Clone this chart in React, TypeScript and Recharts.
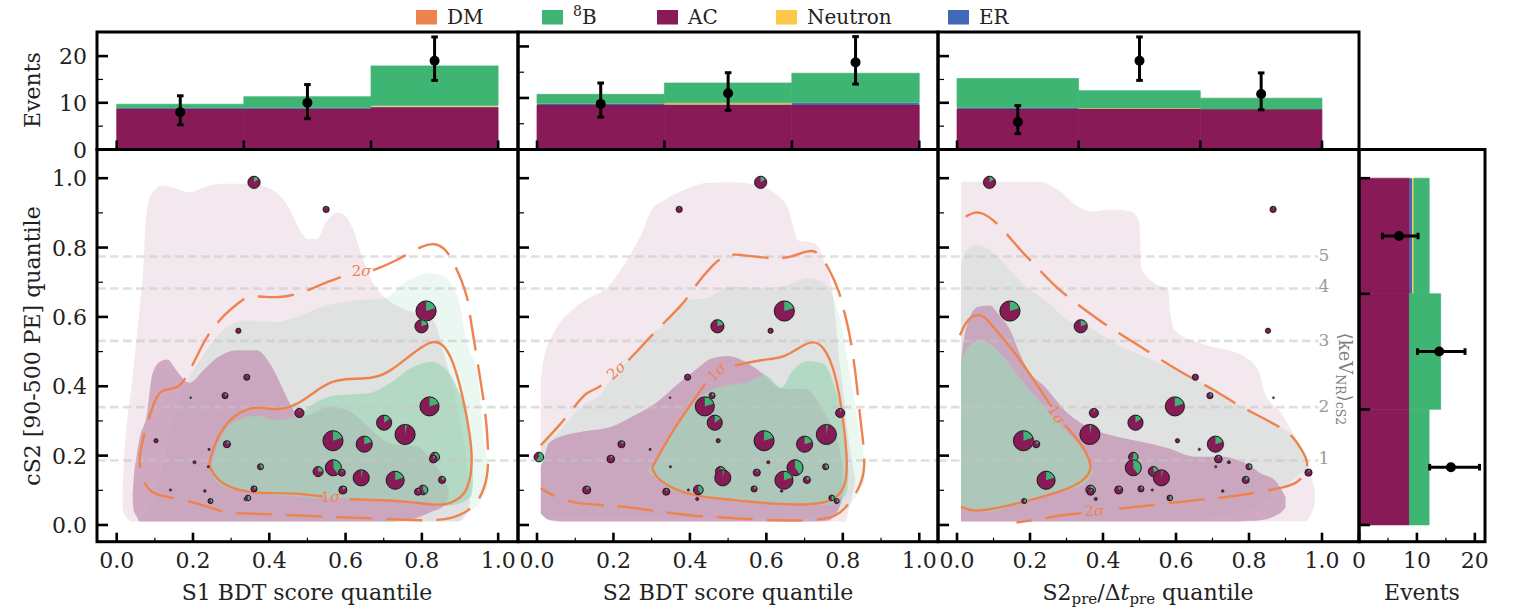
import React from "react";
import { ComposedChart, XAxis, YAxis, Area, Line, Bar, Scatter, ErrorBar, ReferenceLine, ReferenceDot } from "recharts";

const FONT = '"DejaVu Serif", serif';
const INK = "#222";
const C_DM = "#ee8350";
const C_B8 = "#3fb573";
const C_AC = "#881a58";
const C_N = "#ffc84a";
const C_ER = "#4269b8";
const C_AC_CORE = "#c698b7";
const C_B8_CORE = "#a0d5b8";

// ---- histogram values: AC, ER, Neutron, 8B per bin
const binCentres = [1 / 6, 0.5, 5 / 6];
const s1Ac = [8.7, 8.7, 9.0];
const s1Er = [0.2, 0.2, 0.15];
const s1Neutron = [0.05, 0.05, 0.3];
const s1B8 = [0.75, 2.35, 8.45];
const s2Ac = [8.65, 8.65, 8.65];
const s2Er = [0.2, 0.1, 0.35];
const s2Neutron = [0.1, 0.3, 0.05];
const s2B8 = [1.75, 3.85, 5.75];
const preAc = [8.65, 8.65, 8.65];
const preEr = [0.25, 0.1, 0.0];
const preNeutron = [0.05, 0.15, 0.0];
const preB8 = [6.25, 3.7, 2.35];
const cs2Centres = [1 / 6, 0.5, 5 / 6];
const cs2Ac = [8.7, 8.7, 8.72];
const cs2Er = [0, 0, 0.45];
const cs2Neutron = [0, 0, 0.3];
const cs2B8 = [3.4, 5.4, 2.65];

// ---- observed counts: value, lower, upper
const s1Obs = [[8, 5.3, 11.5], [10, 6.6, 13.9], [19, 14.8, 24.1]];
const s2Obs = [[8.85, 6.3, 12.9], [10.9, 7.6, 14.9], [16.9, 12.7, 21.9]];
const preObs = [[5.9, 3.4, 9.4], [19, 14.8, 24.1], [11.9, 8.5, 16.4]];
const cs2Obs = [[15.87, 12.2, 20.8], [13.85, 10.1, 18.3], [6.9, 4.05, 10.2]];

// ---- observed events
const eventS1 = [.36, .549, .811, .799, .319, .341, .284, .194, .479, .82, .701, .756, .567, .649, .289, .103, .242, .834, .83, .204, .24, .377, .568, .528, .59, .641, .73, .853, .36, .593, .803, .79, .141, .231, .344, .338, .246];
const eventS2 = [.585, .372, .647, .472, .611, .394, .458, .348, .793, .439, .465, .757, .594, .70, .221, .474, .296, .005, .193, .605, .349, .755, .675, .48, .575, .486, .646, .706, .568, .13, .422, .338, .396, .64, .771, .419, .784];
const eventPre = [.089, .866, .145, .339, .852, .653, .693, .867, .375, .597, .489, .364, .182, .708, .217, .604, .664, .483, .716, .745, .709, .80, .483, .538, .963, .56, .244, .791, .504, .443, .366, .366, .535, .728, .583, .38, .184];
const eventCs2 = [.988, .91, .617, .573, .56, .426, .373, .367, .323, .342, .295, .261, .243, .233, .233, .243, .218, .196, .19, .181, .168, .168, .165, .154, .151, .136, .129, .13, .104, .101, .101, .096, .101, .098, .078, .075, .069];
const eventWeight = [6, 3, 10, 6.5, 2.5, 3, 3, .8, 4.5, 9.5, 7.5, 10, 10, 8, 3.5, 2, 1, 4.7, 3.8, 1.5, 1, 3, 8, 5, 3.5, 8, 9, 3.5, 3, 4, 4.8, 3.5, 1, 1.2, 2.8, 1.5, 2.5];
const eventB8Share = [.15, .05, .2, .2, 0, .05, .2, 0, .05, .2, .15, .03, .2, .2, .15, 0, 0, .6, .1, 0, 0, .4, .4, .25, .1, .03, .2, .2, .2, .15, .4, .1, 0, 0, .5, 0, .4];

// ---- reference cS2 quantile levels
const energyLevels = [0.186, 0.34, 0.531, 0.682, 0.774];
const energyLabels = ["1", "2", "3", "4", "5"];

// ---- density bands: x, lower, upper
const s1Ac2 = [[.015, .05, .10], [.02, .03, .2], [.04, .01, .41], [.06, .01, .62], [.07, .01, .745], [.077, .01, .889], [.09, .01, .952], [.12, .01, .979], [.16, .01, .969], [.19, .01, .959], [.23, .01, .974], [.27, .01, .984], [.35, .01, .984], [.40, .01, .971], [.45, .01, .918], [.48, .01, .851], [.50, .01, .825], [.525, .01, .825], [.55, .01, .875], [.58, .01, .901], [.60, .01, .891], [.62, .01, .851], [.64, .01, .784], [.67, .01, .702], [.70, .01, .659], [.74, .01, .629], [.83, .01, .59], [.86, .01, .485], [.895, .01, .33], [.92, .035, .149], [.925, .06, .08]];
const s1Ac1 = [[.042, .07, .09], [.045, .04, .14], [.052, .025, .197], [.06, .01, .25], [.078, .01, .312], [.094, .01, .437], [.113, .01, .47], [.133, .01, .477], [.153, .01, .451], [.183, .01, .413], [.192, .01, .41], [.227, .01, .446], [.267, .01, .485], [.315, .01, .504], [.367, .01, .504], [.402, .01, .465], [.433, .01, .398], [.454, .01, .35], [.48, .01, .312], [.50, .01, .317], [.56, .01, .341], [.62, .01, .322], [.655, .01, .288], [.716, .01, .235], [.75, .014, .23], [.786, .02, .226], [.83, .04, .178], [.856, .053, .139], [.87, .08, .10]];
const s1B82 = [[.07, .01, .02], [.105, .01, .1], [.14, .01, .27], [.166, .01, .37], [.19, .01, .425], [.227, .01, .489], [.27, .01, .552], [.34, .01, .59], [.42, .01, .585], [.47, .01, .60], [.54, .01, .629], [.63, .01, .648], [.70, .01, .654], [.76, .01, .702], [.82, .01, .726], [.86, .01, .716], [.885, .01, .678], [.895, .01, .655], [.917, .034, .53], [.948, .06, .42], [.96, .08, .264], [.972, .11, .19]];
const s1B81 = [[.245, .155, .16], [.262, .125, .225], [.297, .106, .288], [.349, .099, .312], [.367, .093, .315], [.419, .086, .302], [.472, .082, .312], [.524, .077, .355], [.576, .077, .374], [.655, .074, .379], [.716, .072, .408], [.769, .069, .451], [.825, .06, .47], [.856, .055, .456], [.891, .06, .398], [.917, .072, .312], [.93, .086, .197], [.934, .12, .14]];
const s2Ac2 = [[.01, .034, .422], [.017, .025, .475], [.043, .01, .552], [.091, .01, .619], [.126, .01, .648], [.186, .01, .688], [.23, .01, .755], [.274, .01, .841], [.30, .01, .909], [.335, .01, .9375], [.396, .01, .971], [.44, .01, .986], [.509, .01, .988], [.588, .01, .976], [.632, .01, .947], [.658, .01, .909], [.67, .01, .861], [.684, .01, .82], [.727, .01, .8125], [.753, .01, .755], [.771, .01, .6875], [.793, .01, .456], [.806, .01, .336], [.819, .06, .216], [.832, .12, .14]];
const s2Ac1 = [[.01, .034, .17], [.017, .025, .187], [.03, .015, .235], [.073, .01, .259], [.117, .01, .269], [.195, .01, .283], [.248, .01, .312], [.309, .01, .35], [.37, .01, .408], [.413, .01, .446], [.457, .01, .48], [.50, .01, .487], [.553, .01, .465], [.596, .01, .432], [.64, .01, .393], [.70, .01, .393], [.727, .01, .369], [.758, .012, .312], [.784, .034, .254], [.80, .08, .168]];
const s2B82 = [[.01, .03, .235], [.03, .02, .245], [.134, .02, .355], [.16, .02, .369], [.204, .02, .437], [.239, .02, .475], [.282, .02, .533], [.335, .02, .58], [.387, .02, .649], [.446, .02, .654], [.50, .02, .6875], [.588, .02, .683], [.64, .02, .6875], [.71, .02, .7115], [.745, .02, .702], [.771, .034, .668], [.801, .045, .552], [.814, .053, .46], [.83, .075, .36], [.845, .10, .25], [.853, .12, .216], [.858, .13, .17]];
const s2B81 = [[.291, .155, .16], [.317, .13, .197], [.352, .10, .264], [.387, .091, .321], [.422, .082, .365], [.457, .077, .389], [.50, .072, .403], [.553, .065, .413], [.596, .062, .432], [.64, .06, .396], [.666, .059, .441], [.71, .058, .473], [.749, .058, .465], [.77, .058, .427], [.792, .075, .341], [.81, .091, .216], [.814, .12, .158]];
const preAc2 = [[.011, .01, .99], [.222, .01, .99], [.277, .01, .966], [.332, .01, .918], [.368, .01, .904], [.423, .01, .91], [.478, .01, .904], [.50, .01, .87], [.505, .01, .74], [.542, .01, .697], [.579, .01, .678], [.583, .01, .62], [.597, .01, .561], [.67, .01, .523], [.788, .01, .485], [.83, .01, .437], [.84, .01, .389], [.889, .01, .321], [.921, .01, .264], [.953, .01, .197], [.97, .03, .14], [.98, .06, .10]];
const preAc1 = [[.011, .01, .47], [.017, .01, .523], [.036, .01, .60], [.058, .01, .629], [.09, .01, .633], [.113, .01, .609], [.15, .01, .552], [.168, .01, .504], [.195, .01, .446], [.241, .01, .398], [.305, .01, .321], [.378, .01, .274], [.442, .01, .254], [.506, .01, .24], [.579, .01, .221], [.651, .01, .197], [.733, .01, .197], [.76, .01, .19], [.807, .012, .168], [.83, .014, .15], [.87, .025, .13], [.89, .038, .10], [.90, .05, .08]];
const preB82 = [[.011, .01, .75], [.027, .01, .793], [.054, .01, .808], [.09, .01, .793], [.14, .01, .74], [.195, .01, .683], [.241, .01, .649], [.305, .01, .59], [.369, .01, .566], [.442, .01, .518], [.515, .01, .485], [.579, .01, .456], [.651, .01, .422], [.67, .015, .41], [.733, .03, .369], [.80, .043, .33], [.88, .10, .288], [.89, .106, .28], [.925, .135, .254], [.945, .154, .22], [.96, .16, .19]];
const preB81 = [[.011, .053, .475], [.031, .043, .513], [.063, .038, .533], [.095, .038, .518], [.131, .048, .48], [.177, .062, .417], [.232, .082, .35], [.287, .096, .283], [.332, .11, .235], [.36, .13, .192], [.373, .15, .16]];

// ---- signal contours (null = gap for the label)
const s1Sigma2 = [[.105, .369], [.118, .389], [.140, .392], [.166, .398], [.188, .437], [.218, .504], [.240, .552], [.288, .614], [.323, .643], [.341, .659], [.384, .659], [.437, .654], [.507, .678], [.541, .697], [.611, .724], [.64, null], [.672, .734], [.738, .764], [.803, .808], [.838, .813], [.865, .793], [.886, .75], [.904, .707], [.921, .649], [.921, .638], [.948, .456], [.969, .312], [.974, .216], [.974, .139], [.952, .072], [.917, .034], [.856, .012], [.786, .014], [.672, .019], [.541, .024], [.454, .029], [.314, .034], [.279, .036], [.227, .058], [.157, .077], [.096, .086], [.07, .12], [.059, .178], [.061, .206], [.07, .254], [.087, .321], [.105, .369]];
const s1Sigma1 = [[.243, .178], [.253, .226], [.279, .283], [.314, .321], [.358, .341], [.393, .336], [.428, .331], [.48, .35], [.524, .389], [.568, .417], [.611, .422], [.672, .422], [.716, .441], [.769, .489], [.825, .535], [.856, .523], [.882, .475], [.908, .369], [.926, .264], [.934, .178], [.921, .101], [.895, .072], [.856, .055], [.803, .062], [.716, .072], [.611, .074], [.56, null], [.541, .082], [.454, .093], [.367, .091], [.306, .103], [.262, .13], [.243, .168], [.243, .178]];
const s2Sigma2 = [[.01, .23], [.06, .288], [.104, .35], [.13, .384], [.16, .393], [.195, .427], [.21, null], [.239, .475], [.269, .509], [.30, .547], [.352, .605], [.387, .643], [.422, .702], [.452, .74], [.483, .774], [.514, .782], [.553, .776], [.631, .766], [.666, .774], [.71, .791], [.727, .791], [.74, .776], [.762, .745], [.793, .668], [.801, .624], [.819, .552], [.836, .417], [.845, .312], [.854, .235], [.858, .168], [.849, .115], [.806, .043], [.771, .019], [.71, .012], [.579, .014], [.466, .024], [.422, .024], [.291, .043], [.23, .053], [.195, .055], [.117, .062], [.082, .067], [.03, .091], [.01, .106]];
const s2Sigma1 = [[.302, .168], [.317, .197], [.361, .283], [.404, .35], [.44, .408], [.47, null], [.518, .46], [.588, .477], [.649, .482], [.693, .518], [.723, .531], [.749, .518], [.78, .446], [.801, .312], [.814, .168], [.805, .101], [.771, .067], [.71, .058], [.64, .06], [.553, .067], [.50, .074], [.422, .082], [.361, .101], [.317, .13], [.302, .158], [.302, .168]];
const preSigma2 = [[.024, .889], [.049, .904], [.072, .899], [.099, .88], [.127, .851], [.177, .788], [.209, .755], [.264, .692], [.314, .649], [.359, .614], [.396, .585], [.46, .542], [.533, .494], [.597, .451], [.661, .413], [.706, .389], [.77, .345], [.807, .326], [.88, .285], [.912, .264], [.934, .235], [.953, .202], [.96, .182], [.96, .158], [.948, .139], [.93, .12], [.889, .106], [.852, .101], [.761, .082], [.651, .072], [.524, .055], [.41, .044], [.38, null], [.341, .034], [.286, .029], [.214, .014], [.163, .007]];
const preSigma1 = [[.008, .547], [.022, .581], [.04, .603], [.058, .607], [.077, .60], [.099, .571], [.131, .533], [.163, .489], [.186, .456], [.223, .398], [.259, .341], [.28, null], [.296, .288], [.341, .235], [.364, .187], [.369, .158], [.346, .125], [.286, .096], [.186, .067], [.077, .041], [.04, .041], [.011, .053]];

// ---- legend
const legendNames = ["DM", "B", "AC", "Neutron", "ER"];
const legendColors = [C_DM, C_B8, C_AC, C_N, C_ER];
const legendSwatchX = [416, 542, 657, 776, 948];

const mainTicks = [0, .1, .2, .3, .4, .5, .6, .7, .8, .9, 1];
const countTicks = [0, 5, 10, 15, 20];
const edgeTicks = [0, 1 / 3, 2 / 3, 1];
const MAIN_Y: [number, number] = [-0.0482, 1.0813];

const band = (rows: any[]) => rows.map(([x, lo, hi]) => ({ x, band: [lo, hi] }));
const curve = (rows: any[]) => rows.map(([x, y]) => ({ x, y }));
const histo = (ac: number[], er: number[], n: number[], b: number[]) =>
  binCentres.map((x, i) => ({ x, ac: ac[i], er: er[i], neutron: n[i], b8: b[i] }));
const obsX = (rows: number[][]) => rows.map((r, i) => ({ x: binCentres[i], y: r[0], err: [r[0] - r[1], r[2] - r[0]] }));
const obsY = (rows: number[][]) => rows.map((r, i) => ({ y: cs2Centres[i], x: r[0], err: [r[0] - r[1], r[2] - r[0]] }));

const Tx = ({ children, ...p }: any) => (
  <text fontFamily={FONT} fill={INK} {...p}>{children}</text>
);

const bottomTick = (isMajor: (v: number) => boolean, fmt: ((v: number) => string) | null, majorLen = 9, minorLen = 4) => (p: any) => {
  const v = p.payload.value;
  const major = isMajor(v);
  return (
    <g>
      <line x1={p.x} x2={p.x} y1={p.y} y2={p.y - (major ? majorLen : minorLen)} stroke="#000" strokeWidth={major ? 2.6 : 1.2} />
      {fmt && major ? <Tx x={p.x} y={p.y + 26} fontSize={22} textAnchor="middle">{fmt(v)}</Tx> : null}
    </g>
  );
};
const leftTick = (isMajor: (v: number) => boolean, fmt: ((v: number) => string) | null, majorLen = 11, minorLen = 6) => (p: any) => {
  const v = p.payload.value;
  const major = isMajor(v);
  return (
    <g>
      <line x1={p.x} x2={p.x + (major ? majorLen : minorLen)} y1={p.y} y2={p.y} stroke="#000" strokeWidth={major ? 2.6 : 1.2} />
      {fmt && major ? <Tx x={p.x - 10} y={p.y + 8} fontSize={22} textAnchor="end">{fmt(v)}</Tx> : null}
    </g>
  );
};
const evenTenth = (v: number) => Math.round(v * 10) % 2 === 0;
const evenTen = (v: number) => v % 10 === 0;

const PieMark = (p: any) => {
  const { cx, cy, payload } = p;
  const r = payload.size;
  const f = payload.share;
  let wedge = null;
  if (f > 0) {
    const a = f * 2 * Math.PI;
    const ex = cx + r * Math.sin(a);
    const ey = cy - r * Math.cos(a);
    wedge = <path d={`M${cx},${cy} L${cx},${cy - r} A${r},${r} 0 ${f > 0.5 ? 1 : 0} 1 ${ex},${ey} Z`} fill={C_B8} />;
  }
  return (
    <g>
      <circle cx={cx} cy={cy} r={r + 0.6} fill="none" stroke="#9a9a9a" strokeOpacity={0.5} strokeWidth={0.8} />
      <circle cx={cx} cy={cy} r={r} fill={C_AC} stroke="none" />
      {wedge}
      <circle cx={cx} cy={cy} r={r} fill="none" stroke="#1a1a1a" strokeWidth={r < 2 ? 0.8 : 1} />
    </g>
  );
};
const Obs = (p: any) => <circle cx={p.cx} cy={p.cy} r={5} fill="#000" />;

const SigmaText = ({ x, y, n, angle = 0 }: any) => (
  <ReferenceDot
    x={x}
    y={y}
    r={0}
    ifOverflow="visible"
    shape={(p: any) => (
      <text x={p.cx} y={p.cy + 5} transform={`rotate(${angle} ${p.cx} ${p.cy})`} fontFamily={FONT} fontSize={15} fill={C_DM} textAnchor="middle">
        {n}<tspan fontStyle="italic">σ</tspan>
      </text>
    )}
  />
);

const Stage = ({ children }: any) => <div style={{ position: "absolute", left: 0, top: 0, width: 1514, height: 609 }}>{children}</div>;

const TopPanel = ({ left, right, xDomain, yMax, rows, obs, barW, labels }: any) => (
  <Stage>
    <ComposedChart width={1514} height={609} data={rows} margin={{ left: left - 1, right: 1514 - right, top: 32, bottom: 458.5 }}>
      <XAxis xAxisId={0} dataKey="x" type="number" domain={xDomain} allowDataOverflow ticks={edgeTicks} interval={0} height={1} tickSize={0} tickMargin={0} tickLine={false} axisLine={false} tick={bottomTick(() => true, null)} />
      <YAxis yAxisId={0} type="number" domain={[0, yMax]} allowDataOverflow ticks={countTicks} interval={0} width={1} tickSize={0} tickMargin={0} tickLine={false} axisLine={false} tick={leftTick(evenTen, labels ? (v) => String(v) : null)} />
      <Bar dataKey="ac" stackId="h" fill={C_AC} stroke={C_AC} strokeWidth={0.7} barSize={barW} isAnimationActive={false} />
      <Bar dataKey="er" stackId="h" fill={C_ER} barSize={barW} isAnimationActive={false} />
      <Bar dataKey="neutron" stackId="h" fill={C_N} barSize={barW} isAnimationActive={false} />
      <Bar dataKey="b8" stackId="h" fill={C_B8} stroke={C_B8} strokeWidth={0.7} barSize={barW} isAnimationActive={false} />
      <Scatter data={obs} dataKey="y" shape={Obs} isAnimationActive={false}>
        <ErrorBar dataKey="err" direction="y" width={3.3} strokeWidth={3} stroke="#000" isAnimationActive={false} />
      </Scatter>
    </ComposedChart>
  </Stage>
);

const MainPanel = ({ left, right, xDomain, ac2, ac1, b2, b1, s2, s1, events, yLabels, levelEnd, children }: any) => (
  <Stage>
    <ComposedChart width={1514} height={609} margin={{ left: left - 1, right: 1514 - right, top: 150, bottom: 66.3 }}>
      <XAxis xAxisId={0} dataKey="x" type="number" domain={xDomain} allowDataOverflow ticks={mainTicks} interval={0} height={1} tickSize={0} tickMargin={0} tickLine={false} axisLine={false} tick={bottomTick(evenTenth, (v) => v.toFixed(1))} />
      <YAxis yAxisId={0} type="number" domain={MAIN_Y} allowDataOverflow ticks={mainTicks} interval={0} width={1} tickSize={0} tickMargin={0} tickLine={false} axisLine={false} tick={leftTick(evenTenth, yLabels ? (v) => v.toFixed(1) : null)} />
      <Area data={band(ac2)} dataKey="band" type="monotoneX" stroke="none" fill={C_AC} fillOpacity={0.1} dot={false} activeDot={false} isAnimationActive={false} />
      <Area data={band(b2)} dataKey="band" type="monotoneX" stroke="none" fill={C_B8} fillOpacity={0.1} dot={false} activeDot={false} isAnimationActive={false} />
      <Area data={band(ac1)} dataKey="band" type="monotoneX" stroke="none" fill={C_AC_CORE} fillOpacity={0.8} dot={false} activeDot={false} isAnimationActive={false} />
      <Area data={band(b1)} dataKey="band" type="monotoneX" stroke="none" fill={C_B8_CORE} fillOpacity={0.7} dot={false} activeDot={false} isAnimationActive={false} />
      {energyLevels.map((y) => (
        <ReferenceLine key={y} segment={[{ x: xDomain[0], y }, { x: levelEnd, y }]} ifOverflow="extendDomain" stroke="#c4c4c4" strokeOpacity={0.55} strokeWidth={2.6} strokeDasharray="8.5 4.5" />
      ))}
      <Line data={curve(s2)} dataKey="y" type="basis" stroke={C_DM} strokeWidth={2.4} strokeDasharray="36 14" dot={false} activeDot={false} isAnimationActive={false} />
      <Line data={curve(s1)} dataKey="y" type="basis" stroke={C_DM} strokeWidth={2.4} dot={false} activeDot={false} isAnimationActive={false} />
      {children}
      <Scatter data={events} dataKey="y" shape={PieMark} isAnimationActive={false} />
    </ComposedChart>
  </Stage>
);

const events = (xs: number[]) => xs.map((x, i) => ({ x, y: eventCs2[i], size: eventWeight[i], share: eventB8Share[i] }));

const SideRows = cs2Centres.map((y, i) => ({ y, ac: cs2Ac[i], er: cs2Er[i], neutron: cs2Neutron[i], b8: cs2B8[i] }));

export default function App() {
  return (
    <div style={{ position: "absolute", left: 0, top: 0, width: 1514, height: 609, background: "#fff", overflow: "hidden" }}>
      <TopPanel left={97} right={518} xDomain={[-0.0516, 1.052]} yMax={25.16} rows={histo(s1Ac, s1Er, s1Neutron, s1B8)} obs={obsX(s1Obs)} barW={127.1} labels />
      <TopPanel left={518} right={938} xDomain={[-0.0497, 1.049]} yMax={22.8} rows={histo(s2Ac, s2Er, s2Neutron, s2B8)} obs={obsX(s2Obs)} barW={127.4} />
      <TopPanel left={938} right={1359} xDomain={[-0.0521, 1.1014]} yMax={25.16} rows={histo(preAc, preEr, preNeutron, preB8)} obs={obsX(preObs)} barW={121.6} />

      <MainPanel left={97} right={518} xDomain={[-0.0516, 1.052]} levelEnd={1.052} ac2={s1Ac2} ac1={s1Ac1} b2={s1B82} b1={s1B81} s2={s1Sigma2} s1={s1Sigma1} events={events(eventS1)} yLabels>
        {SigmaText({ x: 0.642, y: 0.731, n: 2 })}
        {SigmaText({ x: 0.561, y: 0.08, n: 1 })}
      </MainPanel>
      <MainPanel left={518} right={938} xDomain={[-0.0497, 1.049]} levelEnd={1.049} ac2={s2Ac2} ac1={s2Ac1} b2={s2B82} b1={s2B81} s2={s2Sigma2} s1={s2Sigma1} events={events(eventS2)}>
        {SigmaText({ x: 0.208, y: 0.446, n: 2, angle: -42 })}
        {SigmaText({ x: 0.47, y: 0.441, n: 1, angle: -45 })}
      </MainPanel>
      <MainPanel left={938} right={1359} xDomain={[-0.0521, 1.1014]} levelEnd={0.99} ac2={preAc2} ac1={preAc1} b2={preB82} b1={preB81} s2={preSigma2} s1={preSigma1} events={events(eventPre)}>
        {SigmaText({ x: 0.273, y: 0.317, n: 1, angle: 55 })}
        {SigmaText({ x: 0.376, y: 0.041, n: 2 })}
      </MainPanel>

      <Stage>
        <ComposedChart layout="vertical" width={1514} height={609} data={SideRows} margin={{ left: 1358, right: 29, top: 150, bottom: 66.3 }}>
          <XAxis xAxisId={0} type="number" dataKey="x" domain={[0, 21.75]} allowDataOverflow ticks={countTicks} interval={0} height={1} tickSize={0} tickMargin={0} tickLine={false} axisLine={false} tick={bottomTick(evenTen, (v) => String(v))} />
          <YAxis yAxisId={0} type="number" dataKey="y" domain={MAIN_Y} allowDataOverflow reversed ticks={edgeTicks} interval={0} width={1} tickSize={0} tickMargin={0} tickLine={false} axisLine={false} tick={leftTick(() => true, null)} />
          <Bar dataKey="ac" stackId="h" fill={C_AC} stroke={C_AC} strokeWidth={0.7} barSize={115.5} isAnimationActive={false} />
          <Bar dataKey="er" stackId="h" fill={C_ER} barSize={115.5} isAnimationActive={false} />
          <Bar dataKey="neutron" stackId="h" fill={C_N} barSize={115.5} isAnimationActive={false} />
          <Bar dataKey="b8" stackId="h" fill={C_B8} stroke={C_B8} strokeWidth={0.7} barSize={115.5} isAnimationActive={false} />
          <Scatter data={obsY(cs2Obs)} dataKey="x" shape={Obs} isAnimationActive={false}>
            <ErrorBar dataKey="err" direction="x" width={3.3} strokeWidth={3} stroke="#000" isAnimationActive={false} />
          </Scatter>
        </ComposedChart>
      </Stage>

      <Stage>
        <svg width={1514} height={609} style={{ position: "absolute", left: 0, top: 0 }}>
          <g fill="none" stroke="#000" strokeWidth={3}>
            <rect x={97} y={32} width={421} height={117.5} />
            <rect x={518} y={32} width={420} height={117.5} />
            <rect x={938} y={32} width={421} height={117.5} />
            <rect x={97} y={149.5} width={421} height={392.2} />
            <rect x={518} y={149.5} width={420} height={392.2} />
            <rect x={938} y={149.5} width={421} height={392.2} />
            <rect x={1359} y={149.5} width={126} height={392.2} />
          </g>
          {legendNames.map((n, i) => (
            <g key={n}>
              <rect x={legendSwatchX[i]} y={10} width={21} height={14.5} fill={legendColors[i]} />
              <Tx x={legendSwatchX[i] + 31} y={24} fontSize={20}>
                {n === "B" ? <><tspan fontSize={14} dy={-8}>8</tspan><tspan dy={8}>B</tspan></> : n}
              </Tx>
            </g>
          ))}
          <Tx x={307} y={600} fontSize={22} textAnchor="middle">S1 BDT score quantile</Tx>
          <Tx x={728} y={600} fontSize={22} textAnchor="middle">S2 BDT score quantile</Tx>
          <Tx x={1148} y={600} fontSize={22} textAnchor="middle">
            S2<tspan fontSize={15} dy={4}>pre</tspan><tspan dy={-4}>/Δ</tspan><tspan fontStyle="italic">t</tspan><tspan fontSize={15} dy={4}>pre</tspan><tspan dy={-4}> quantile</tspan>
          </Tx>
          <Tx x={1422} y={600} fontSize={22} textAnchor="middle">Events</Tx>
          <Tx x={0} y={0} fontSize={22} textAnchor="middle" transform="translate(40 346) rotate(-90)">cS2 [90-500 PE] quantile</Tx>
          <Tx x={0} y={0} fontSize={22} textAnchor="middle" transform="translate(40 90) rotate(-90)">Events</Tx>
          {energyLabels.map((t, i) => (
            <text key={t} x={1324} y={[464, 412, 345.5, 292, 261][i]} fontFamily={FONT} fontSize={17} fill="#9a9a9a" textAnchor="middle">{t}</text>
          ))}
          <text transform="translate(1339 379) rotate(90)" fontFamily={FONT} fontSize={18} fill="#808080" textAnchor="middle">
            ⟨keV<tspan fontSize={12.5} dy={3}>NR</tspan><tspan dy={-3}>⟩</tspan><tspan fontSize={12.5} dy={3}>cS2</tspan>
          </text>
        </svg>
      </Stage>
    </div>
  );
}
